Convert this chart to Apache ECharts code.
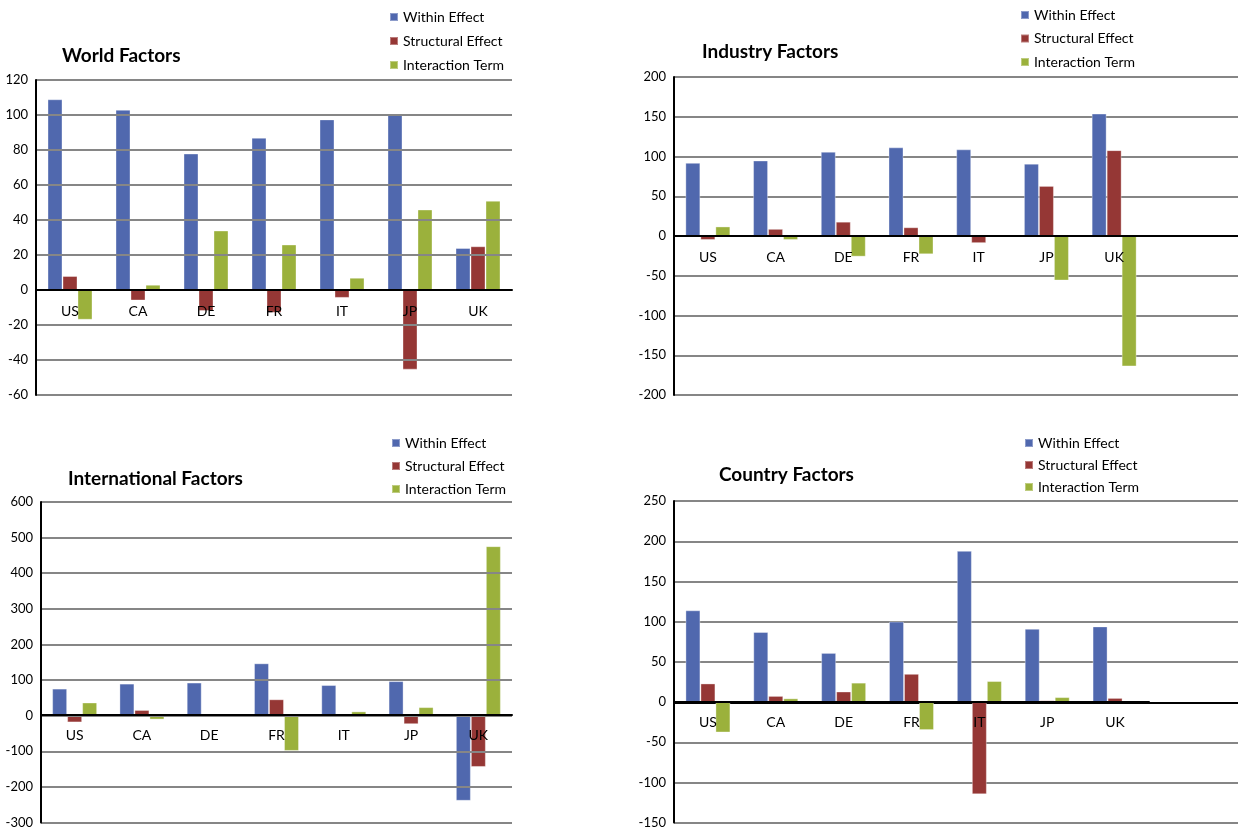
<!DOCTYPE html>
<html lang="en">
<head>
    <meta charset="UTF-8">
    <title>Factors</title>
    <style>
        body { margin: 0; background: #fff; }
        #main { width: 1238px; height: 829px; }
    </style>
</head>
<body>
<div id="main"></div>
<script src="https://cdn.jsdelivr.net/npm/echarts@6/dist/echarts.min.js"></script>
<script>
    var categories = ['US', 'CA', 'DE', 'FR', 'IT', 'JP', 'UK'];
    var seriesNames = ['Within Effect', 'Structural Effect', 'Interaction Term'];
    var colors = ['#5068ae', '#953735', '#9bb13c'];

    // World Factors
    var worldWithin = [109, 103, 78, 87, 97.5, 100, 24];
    var worldStructural = [8, -6, -12, -13, -4.5, -45.5, 25];
    var worldInteraction = [-17, 3, 34, 26, 7, 46, 51];

    // Industry Factors
    var industryWithin = [92, 95, 106, 111.5, 109, 91, 154];
    var industryStructural = [-5, 9, 18, 11, -9, 63, 108];
    var industryInteraction = [12, -5, -26, -23, 0, -56, -164];

    // International Factors
    var internationalWithin = [76, 90, 93, 147, 86, 97, -239];
    var internationalStructural = [-19, 16, 5, 46, 0, -24, -144];
    var internationalInteraction = [37, -11, 0, -99, 12, 24, 476];

    // Country Factors
    var countryWithin = [114, 87, 61, 100, 188, 91, 94];
    var countryStructural = [23, 7.5, 13, 35, -115, 2, 5];
    var countryInteraction = [-38, 4.5, 24, -35, 26, 6, 0];

    var font = 'Lato, "Noto Sans", sans-serif';

    // y ranges per panel: [min, max, interval]
    var worldRange = [-60, 120, 20];
    var industryRange = [-200, 200, 50];
    var internationalRange = [-300, 600, 100];
    var countryRange = [-150, 250, 50];

    var grids = [
        {left: 36, top: 80, width: 476, height: 315},
        {left: 674, top: 77, width: 474, height: 318},
        {left: 41, top: 502, width: 471, height: 323},
        {left: 674, top: 501, width: 475, height: 322},
        // gridlines only, wider than the bar area (right panels)
        {left: 674, top: 77, width: 564, height: 318},
        {left: 674, top: 501, width: 564, height: 322}
    ];

    // category axis sits on the zero line, labels just under it
    function catAxis(gridIndex, range) {
        var h = grids[gridIndex].height;
        return {
            type: 'category', gridIndex: gridIndex, data: categories, z: 5,
            offset: -h * (0 - range[0]) / (range[1] - range[0]),
            axisLine: {onZero: false, lineStyle: {color: '#000', width: 2}},
            axisTick: {show: false},
            axisLabel: {color: '#000', fontSize: 14, fontFamily: font, margin: 14},
            splitLine: {show: false}
        };
    }

    function valAxis(gridIndex, range, showSplit) {
        return {
            type: 'value', gridIndex: gridIndex, min: range[0], max: range[1], interval: range[2], z: 3,
            axisLine: {show: true, lineStyle: {color: '#000', width: 2}},
            axisTick: {show: false},
            axisLabel: {color: '#000', fontSize: 13, fontFamily: font, margin: 8},
            splitLine: {show: showSplit, lineStyle: {color: '#868686', width: 2}}
        };
    }

    // gray gridlines, the zero one black so the axis line runs on to the edge
    function lineOnlyAxes(gridIndex, range) {
        var lineColors = [];
        for (var v = range[0]; v <= range[1]; v += range[2]) {
            lineColors.push(v === 0 ? '#000' : '#868686');
        }
        return [
            {type: 'value', gridIndex: gridIndex, min: 0, max: 1, show: false},
            {
                type: 'value', gridIndex: gridIndex, min: range[0], max: range[1], interval: range[2],
                axisLine: {show: false}, axisTick: {show: false}, axisLabel: {show: false},
                splitLine: {show: true, lineStyle: {color: lineColors, width: 2}}
            }
        ];
    }

    function bars(axisIndex, values) {
        return values.map(function (v, i) {
            return {
                name: seriesNames[i], type: 'bar', xAxisIndex: axisIndex, yAxisIndex: axisIndex,
                data: v, barWidth: 15, barGap: '0%',
                itemStyle: {color: colors[i], borderColor: 'rgba(255,255,255,0.35)', borderWidth: 1},
                silent: true
            };
        });
    }

    function legendAt(left, top, gap) {
        return {
            data: seriesNames, orient: 'vertical', left: left, top: top, padding: 0,
            icon: 'rect', itemWidth: 8, itemHeight: 8, itemGap: gap,
            textStyle: {color: '#000', fontSize: 14, fontFamily: font, lineHeight: 16}
        };
    }

    function titleAt(text, left, top) {
        return {
            text: text, left: left, top: top, padding: 0,
            textStyle: {color: '#000', fontSize: 19, fontWeight: 'bold', fontFamily: font}
        };
    }

    var extIndustry = lineOnlyAxes(4, industryRange);
    var extCountry = lineOnlyAxes(5, countryRange);

    option = {
        animation: false,
        color: colors,
        title: [
            titleAt('World Factors', 62, 46),
            titleAt('Industry Factors', 702, 42),
            titleAt('International Factors', 68, 469),
            titleAt('Country Factors', 719, 465)
        ],
        legend: [
            legendAt(389, 9, 8),
            legendAt(1020, 7, 7.5),
            legendAt(391, 435, 7),
            legendAt(1024, 435, 6)
        ],
        grid: grids,
        xAxis: [
            catAxis(0, worldRange),
            catAxis(1, industryRange),
            catAxis(2, internationalRange),
            catAxis(3, countryRange),
            extIndustry[0],
            extCountry[0]
        ],
        yAxis: [
            valAxis(0, worldRange, true),
            valAxis(1, industryRange, false),
            valAxis(2, internationalRange, true),
            valAxis(3, countryRange, false),
            extIndustry[1],
            extCountry[1]
        ],
        series: [].concat(
            bars(0, [worldWithin, worldStructural, worldInteraction]),
            bars(1, [industryWithin, industryStructural, industryInteraction]),
            bars(2, [internationalWithin, internationalStructural, internationalInteraction]),
            bars(3, [countryWithin, countryStructural, countryInteraction])
        )
    };

    var myChart = echarts.init(document.getElementById('main'));
    myChart.setOption(option);
    window.onresize = function () {
        myChart.resize();
    };
</script>
</body>
</html>
